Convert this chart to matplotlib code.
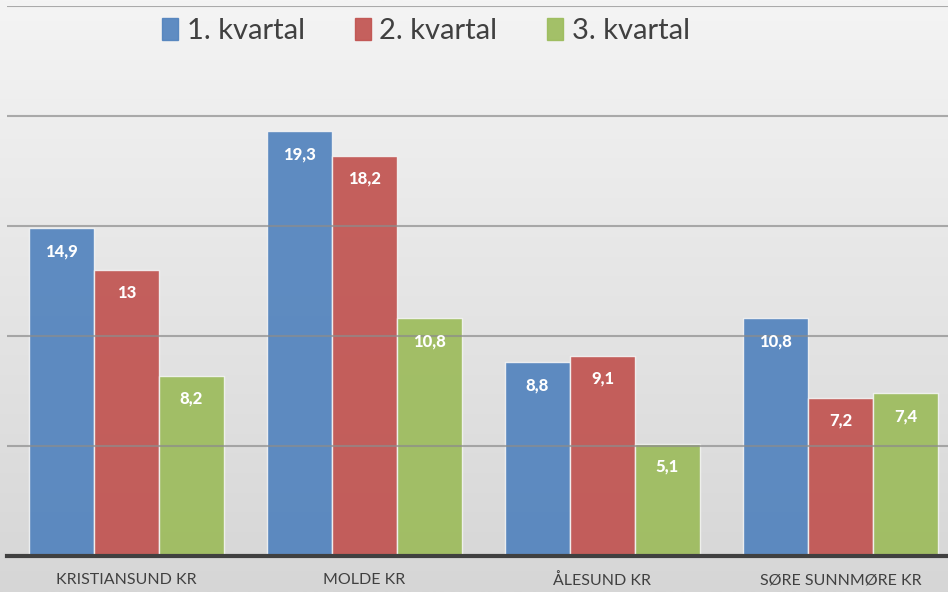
import numpy as np
import matplotlib.pyplot as plt
from matplotlib.patches import Patch
from matplotlib.colors import LinearSegmentedColormap

categories = ['KRISTIANSUND KR', 'MOLDE KR', 'ÅLESUND KR', 'SØRE SUNNMØRE KR']
series_names = ['1. kvartal', '2. kvartal', '3. kvartal']
q1 = [14.9, 19.3, 8.8, 10.8]
q2 = [13, 18.2, 9.1, 7.2]
q3 = [8.2, 10.8, 5.1, 7.4]
labels_q1 = ['14,9', '19,3', '8,8', '10,8']
labels_q2 = ['13', '18,2', '9,1', '7,2']
labels_q3 = ['8,2', '10,8', '5,1', '7,4']
colors = ['#4f81bd', '#c0504d', '#9bbb59']

plt.rcParams['font.family'] = ['Lato', 'DejaVu Sans']

fig = plt.figure(figsize=(9.48, 5.92), dpi=100)

# background gradient
bg = fig.add_axes([0, 0, 1, 1], zorder=-10)
grad = np.linspace(0, 1, 256).reshape(-1, 1)
cmap = LinearSegmentedColormap.from_list('bg', ['#f4f4f4', '#d6d6d6'])
bg.imshow(grad, aspect='auto', cmap=cmap, extent=[0, 1, 0, 1])
bg.axis('off')

ax = fig.add_axes([7 / 948, 36 / 592, 1 - 7 / 948, 550 / 592])
ax.patch.set_alpha(0)

x = np.arange(len(categories))
w = 0.273
for i, (vals, labs) in enumerate(zip([q1, q2, q3], [labels_q1, labels_q2, labels_q3])):
    bars = ax.bar(x + (i - 1) * w, vals, w, color=colors[i], alpha=0.9,
                  edgecolor='#f4f4f4', linewidth=1.0, zorder=2)
    for b, lab in zip(bars, labs):
        ax.text(b.get_x() + b.get_width() / 2, b.get_height() - 1.05, lab,
                ha='center', va='center', color='white', fontsize=12,
                fontweight='black', zorder=4)

ax.set_ylim(0, 25)
ax.set_xlim(-0.502, 3.452)
ax.set_yticks([5, 10, 15, 20, 25])
ax.grid(axis='y', color='#8c8c8c', linewidth=1.5, alpha=0.7, zorder=3)
ax.set_axisbelow(False)
ax.tick_params(axis='y', left=False, labelleft=False)
ax.tick_params(axis='x', bottom=False, pad=9, labelsize=11.5, labelcolor='#404040')
ax.set_xticks(x)
ax.set_xticklabels(categories)
for s in ['top', 'right', 'left']:
    ax.spines[s].set_visible(False)
ax.spines['bottom'].set_color('#404040')
ax.spines['bottom'].set_linewidth(3)

handles = [Patch(color=c, alpha=0.9) for c in colors]
fig.legend(handles, series_names, loc='center', bbox_to_anchor=(426 / 948, 1 - 31 / 592),
           ncol=3, frameon=False, fontsize=21, handlelength=0.55, handleheight=0.75,
           handletextpad=0.3, columnspacing=1.7, labelcolor='#404040')

fig.savefig('out.png', dpi=100)
